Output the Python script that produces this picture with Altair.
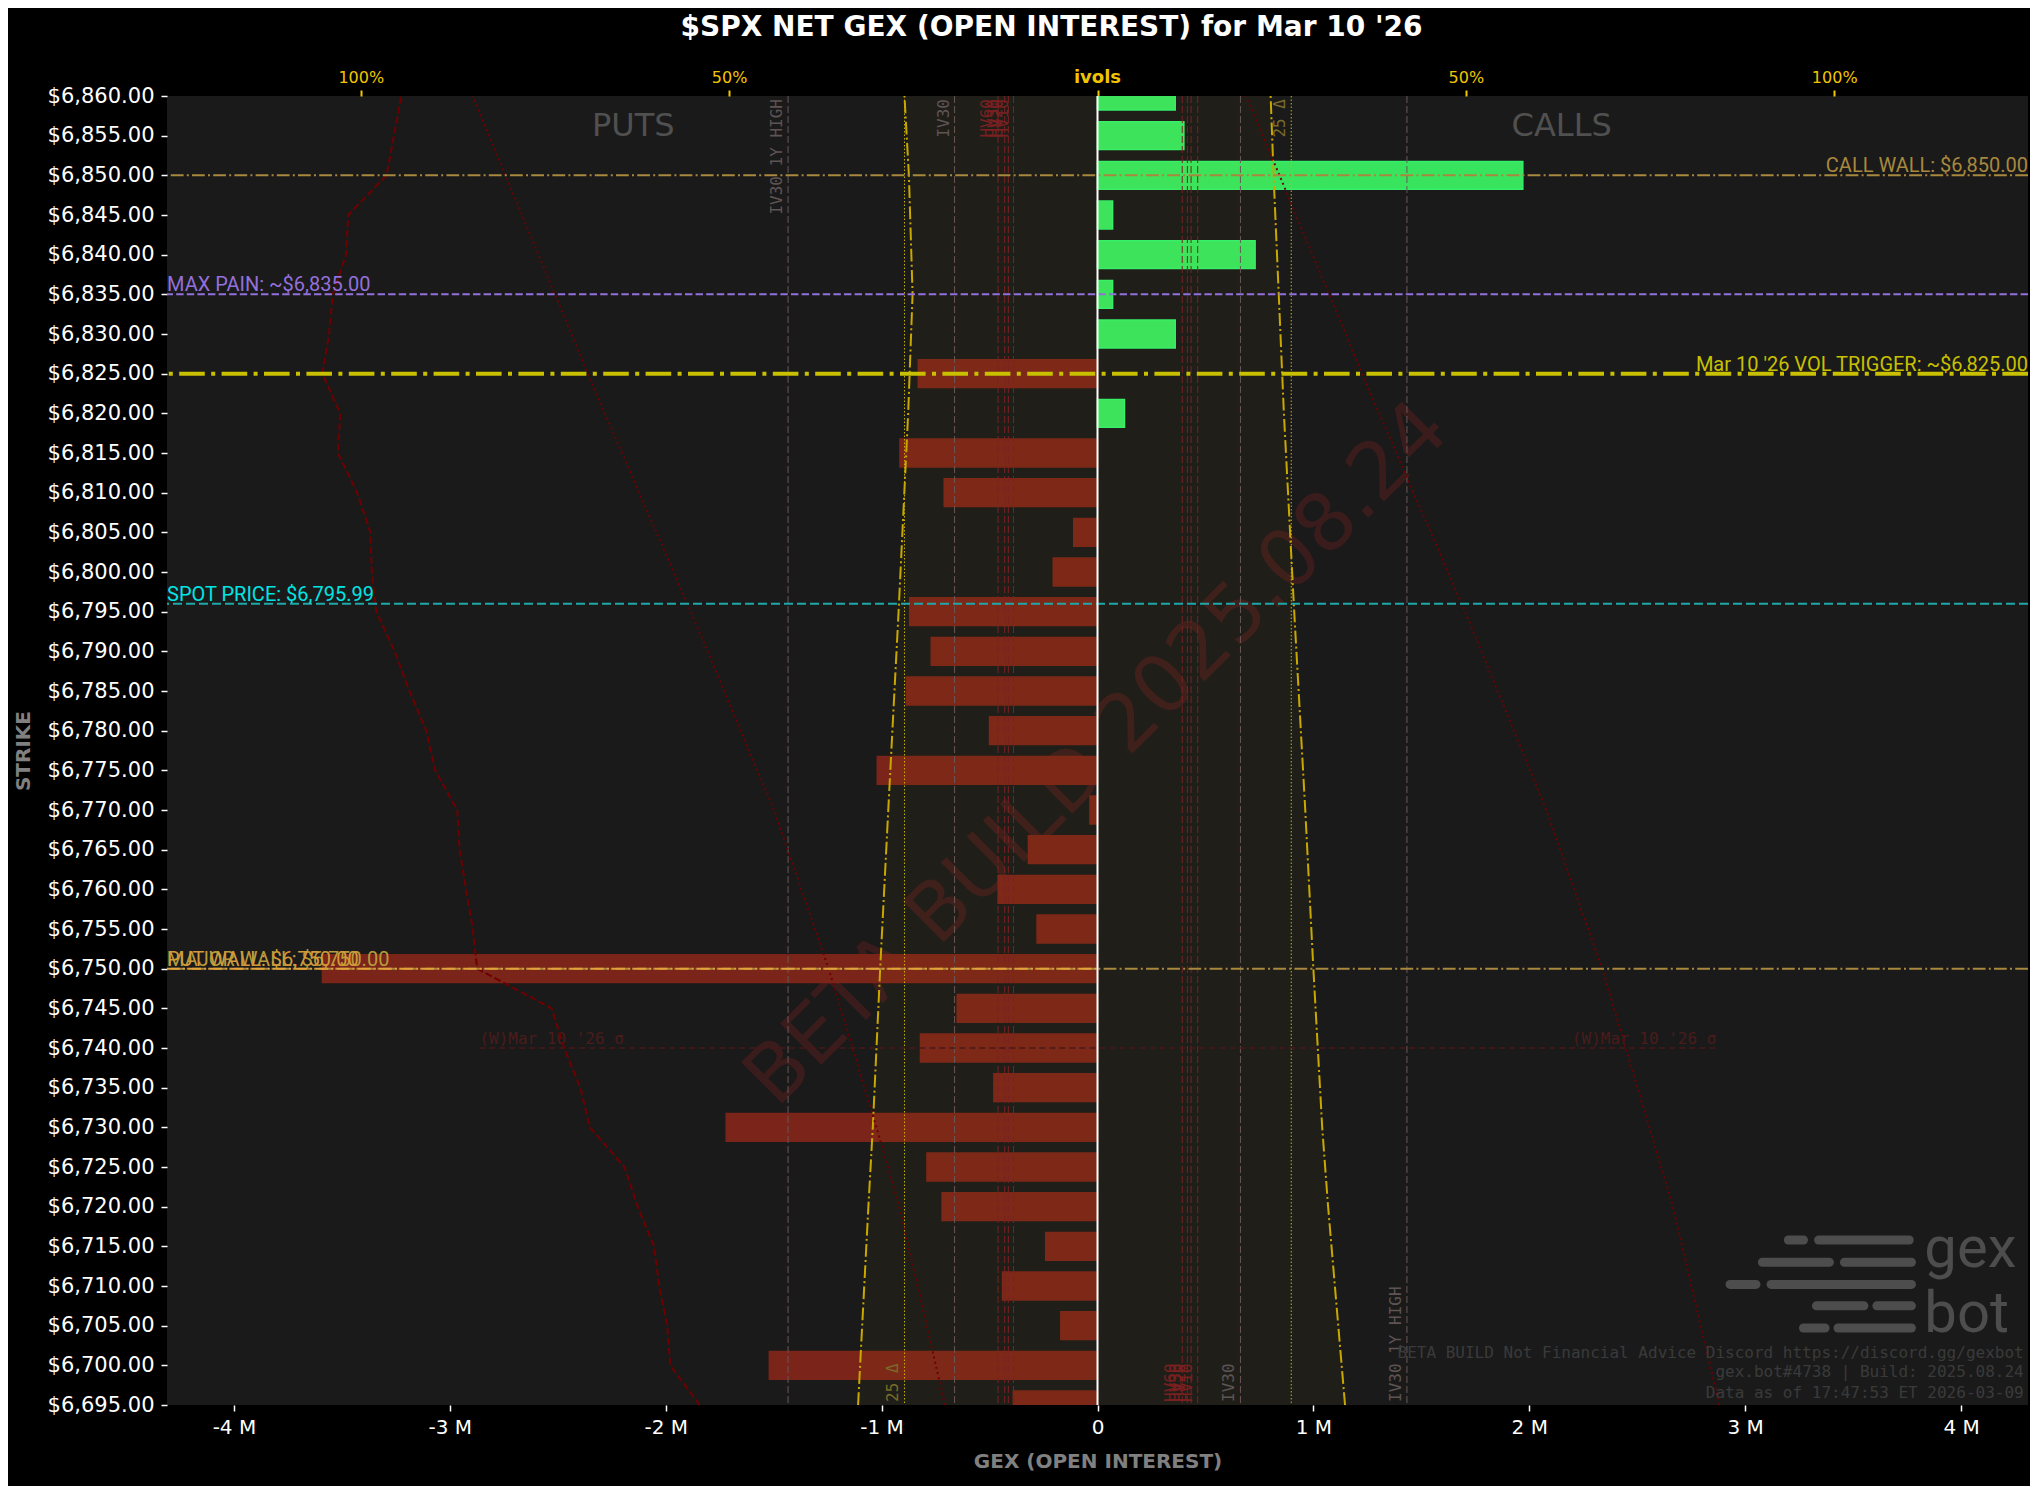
import altair as alt
import pandas as pd

# ---------------- data ----------------
STRIKES = [6860, 6855, 6850, 6845, 6840, 6835, 6830, 6825, 6820, 6815, 6810, 6805,
           6800, 6795, 6790, 6785, 6780, 6775, 6770, 6765, 6760, 6755, 6750, 6745,
           6740, 6735, 6730, 6725, 6720, 6715, 6710, 6705, 6700, 6695]
NET_GEX_M = [0.36, 0.40, 1.97, 0.07, 0.73, 0.07, 0.36, -0.83, 0.125, -0.915, -0.71, -0.11,
             -0.205, -0.87, -0.77, -0.885, -0.50, -1.02, -0.035, -0.32, -0.46, -0.28, -3.59, -0.65,
             -0.82, -0.48, -1.72, -0.79, -0.72, -0.24, -0.44, -0.17, -1.52, -0.39]

# put implied-vol curve (ivols axis, %)
PUT_IV = [-94.5, -95.5, -96.5, -101.7, -102.0, -103.8, -104.3, -105.2, -102.8, -103.1, -100.5, -98.7,
          -98.5, -97.9, -95.4, -93.4, -91.1, -89.9, -86.9, -86.6, -85.7, -84.8, -84.2, -74.1,
          -72.4, -70.2, -68.9, -64.2, -62.4, -60.2, -59.5, -58.4, -58.0, -54.0]

SKEW_STRIKES_L = [6860, 6825, 6795, 6770, 6750, 6730, 6720, 6695]
SKEW_IV_L = [-84.8, -69.2, -55.2, -43.9, -36.5, -30.0, -26.9, -20.7]
SKEW_STRIKES_R = [6860, 6850, 6825, 6795, 6770, 6750, 6720, 6695]
SKEW_IV_R = [20.1, 24.7, 35.9, 49.9, 60.9, 68.5, 78.1, 84.4]

BAND_STRIKES = [6860, 6850, 6835, 6820, 6795, 6770, 6750, 6730, 6720, 6695]
BAND_LEFT = [-26.2, -25.6, -25.1, -25.7, -27.0, -28.4, -29.5, -30.5, -31.1, -32.5]
BAND_RIGHT = [23.5, 23.9, 24.6, 25.3, 26.7, 28.2, 29.3, 30.5, 31.3, 33.6]

IV30_1Y_HIGH = 42.0
IV30 = 19.4
HV_LEFT = [-13.5, -12.6, -12.1, -11.4]
HV_RIGHT = [11.5, 12.2, 12.7, 13.6]
HV_NAMES = ["HV60", "HV30", "HV20", "HV10"]
DELTA25_LEFT, DELTA25_RIGHT = -26.2, 26.3
SIGMA_STRIKE = 6740
SIGMA_IV = [-83.9, 84.0]

MAX_PAIN = 6835
VOL_TRIGGER = 6825
CALL_WALL = 6850
SPOT = 6795.99
PUT_WALL = 6750

X_MIN, X_MAX = -4.31e6, 4.31e6
IV_MAX = 126.3          # ivols (top axis) half-range, in %
K = X_MAX / IV_MAX      # ivols % -> GEX units (both axes share the plot width)
Y_MIN, Y_MAX = 6695, 6860
BAR_HALF = 1.75
GEX_TICKS = [-4e6, -3e6, -2e6, -1e6, 0, 1e6, 2e6, 3e6, 4e6]
IV_TICKS = [-100, -50, 0, 50, 100]
STRIKE_TICKS = list(range(6695, 6861, 5))

SIDE_LABELS = ["PUTS", "CALLS"]
SIDE_X = [-2.15e6, 2.15e6]
SIDE_Y = 6856.2

FOOTER = ["BETA BUILD Not Financial Advice Discord https://discord.gg/gexbot",
          "gex.bot#4738 | Build: 2025.08.24",
          "Data as of 17:47:53 ET 2026-03-09"]
FOOTER_Y = [6701.5, 6699.1, 6696.5]
FOOTER_X = 4.29e6

LOGO_Y = [6715.8, 6715.8, 6713.0, 6713.0, 6710.2, 6710.2, 6707.5, 6707.5, 6704.7, 6704.7]
LOGO_X1 = [3.20, 3.34, 3.08, 3.46, 2.93, 3.12, 3.33, 3.61, 3.27, 3.43]
LOGO_X2 = [3.27, 3.76, 3.39, 3.77, 3.05, 3.77, 3.55, 3.77, 3.37, 3.77]
LOGO_WORDS = ["gex", "bot"]
LOGO_WORD_Y = [6712.4, 6704.2]
LOGO_WORD_X = 3.83e6

WATERMARK = "BETA BUILD 2025.08.24"
WATERMARK_Y = 6777

NARROW = "Roboto"
MONO = "DejaVu Sans Mono"
SANS = "DejaVu Sans"

# ---------------- scales / axes ----------------
y_scale = alt.Scale(domain=[Y_MIN, Y_MAX], nice=False, zero=False)
x_scale = alt.Scale(domain=[X_MIN, X_MAX], nice=False, zero=False)

x_axis = alt.Axis(orient="bottom", values=GEX_TICKS,
                  labelExpr="datum.value == 0 ? '0' : (datum.value < 0 ? '-' : '') + abs(datum.value) / 1000000 + ' M'",
                  tickSize=6, tickWidth=1.5, labelPadding=6, title="GEX (OPEN INTEREST)", titlePadding=14,
                  labelColor="#FFFFFF", tickColor="#FFFFFF", labelFontSize=20, labelFont=SANS,
                  titleColor="#808080", titleFont=SANS, titleFontSize=20, titleFontWeight="bold",
                  domain=False, grid=False)
y_axis = alt.Axis(orient="left", values=STRIKE_TICKS, format="$,.2f", tickSize=6, tickWidth=1.5, labelPadding=7,
                  title="STRIKE", titlePadding=14, labelColor="#FFFFFF", tickColor="#FFFFFF", labelFontSize=21,
                  labelFont=SANS, titleColor="#808080", titleFont=SANS, titleFontSize=20, titleFontWeight="bold",
                  domain=False, grid=False)
top_axis = alt.Axis(orient="top", values=[v * K for v in IV_TICKS],
                    labelExpr=f"abs(round(datum.value / {K})) < 1 ? '' : abs(round(datum.value / {K})) + '%'",
                    labelColor="#F2C500", tickColor="#F2C500", tickSize=6, tickWidth=2, labelPadding=5,
                    labelFontSize=16, labelFont=SANS, title=None, domain=False, grid=False)


def XQ(field, axis=None):
    return alt.X(field, type="quantitative", scale=x_scale, axis=axis)


def YQ(field):
    # every layer carries the same y axis so that the shared axis merges cleanly
    return alt.Y(field, type="quantitative", scale=y_scale, axis=y_axis)


# ---------------- marks ----------------
bars_df = pd.DataFrame({"strike": STRIKES, "gex": [v * 1e6 for v in NET_GEX_M]})

watermark = alt.Chart(pd.DataFrame({"x": [0.0], "y": [WATERMARK_Y], "t": [WATERMARK]})).mark_text(
    angle=315, fontSize=80, font=SANS, color="#3B1C1C", align="center", baseline="middle"
).encode(x=XQ("x:Q"), y=YQ("y:Q"), text="t:N")

bars = alt.Chart(bars_df).mark_bar(clip=True, strokeWidth=1.5).transform_calculate(
    y0=f"datum.strike - {BAR_HALF}", y1=f"datum.strike + {BAR_HALF}"
).encode(
    x=XQ("gex:Q", axis=x_axis),
    x2=alt.X2(datum=0),
    y=YQ("y0:Q"),
    y2="y1:Q",
    color=alt.condition("datum.gex > 0", alt.value("#38E45E"), alt.value("#7B2419")),
    stroke=alt.condition("datum.gex > 0", alt.value("#34F06A"), alt.value("#7B2419")),
)


def ivdf(**cols):
    df = pd.DataFrame(cols)
    for c in list(df.columns):
        if c.startswith("iv"):
            df["x" + c[2:]] = df[c] * K
    return df


band_df = ivdf(strike=BAND_STRIKES, ivl=BAND_LEFT, ivr=BAND_RIGHT)
band = alt.Chart(band_df).mark_area(orient="horizontal", color="#FFD700", opacity=0.025).encode(
    y=YQ("strike:Q"), x=XQ("xl:Q", axis=top_axis), x2="xr:Q")

gray_v = alt.Chart(ivdf(iv=[-IV30_1Y_HIGH, -IV30, IV30, IV30_1Y_HIGH])).mark_rule(
    color="#6A5858", strokeWidth=1, strokeDash=[7, 3]).encode(x=XQ("x:Q"))
red_v = alt.Chart(ivdf(iv=HV_LEFT + HV_RIGHT)).mark_rule(
    color="#7A2222", strokeWidth=1, strokeDash=[7, 3]).encode(x=XQ("x:Q"))
yel_v = alt.Chart(ivdf(iv=[DELTA25_LEFT, DELTA25_RIGHT])).mark_rule(
    color="#C8B400", strokeWidth=1, strokeDash=[1.5, 2]).encode(x=XQ("x:Q"))

top_lab = ivdf(iv=[-IV30_1Y_HIGH, -IV30, DELTA25_RIGHT] + HV_LEFT,
               t=["IV30 1Y HIGH", "IV30", "25 Δ"] + HV_NAMES,
               c=["#5E5454", "#5E5454", "#7A6A28"] + ["#7A2020"] * 4,
               y=[Y_MAX] * 7)
bot_lab = ivdf(iv=[IV30_1Y_HIGH, IV30, DELTA25_LEFT] + HV_RIGHT,
               t=["IV30 1Y HIGH", "IV30", "25 Δ"] + HV_NAMES,
               c=["#5E5454", "#5E5454", "#7A6A28"] + ["#7A2020"] * 4,
               y=[Y_MIN] * 7)
top_text = alt.Chart(top_lab).mark_text(angle=270, align="right", baseline="bottom", dy=-3, dx=-3,
                                        font=MONO, fontSize=16).encode(
    x=XQ("x:Q"), y=YQ("y:Q"), text="t:N", color=alt.Color("c:N", scale=None))
bot_text = alt.Chart(bot_lab).mark_text(angle=270, align="left", baseline="bottom", dy=-3, dx=3,
                                        font=MONO, fontSize=16).encode(
    x=XQ("x:Q"), y=YQ("y:Q"), text="t:N", color=alt.Color("c:N", scale=None))

ivols_lab = alt.Chart(pd.DataFrame({"x": [0.0], "y": [Y_MAX], "t": ["ivols"]})).mark_text(
    font=SANS, fontSize=18, fontWeight="bold", color="#F2C500", baseline="alphabetic", dy=-13).encode(
    x=XQ("x:Q"), y=YQ("y:Q"), text="t:N")

sigma_df = ivdf(iva=[SIGMA_IV[0]], ivb=[SIGMA_IV[1]], y=[SIGMA_STRIKE])
sigma_line = alt.Chart(sigma_df).mark_rule(color="#4A1818", strokeWidth=1.5, strokeDash=[6, 4]).encode(
    x=XQ("xa:Q"), x2="xb:Q", y=YQ("y:Q"))
sigma_lab = ivdf(iv=SIGMA_IV, y=[SIGMA_STRIKE] * 2, t=["(W)Mar 10 '26 σ"] * 2)
sigma_l = alt.Chart(sigma_lab.iloc[[0]]).mark_text(align="left", baseline="alphabetic", dy=-4, font=MONO,
                                                  fontSize=16, color="#4A1C1C").encode(
    x=XQ("x:Q"), y=YQ("y:Q"), text="t:N")
sigma_r = alt.Chart(sigma_lab.iloc[[1]]).mark_text(align="right", baseline="alphabetic", dy=-4, font=MONO,
                                                  fontSize=16, color="#4A1C1C").encode(
    x=XQ("x:Q"), y=YQ("y:Q"), text="t:N")

DASHDOT = [12.8, 3.2, 2, 3.2]
band_l = alt.Chart(band_df).mark_line(color="#C9A800", strokeWidth=2, strokeDash=DASHDOT).encode(
    x=XQ("xl:Q"), y=YQ("strike:Q"), order="strike:Q")
band_r = alt.Chart(band_df).mark_line(color="#C9A800", strokeWidth=2, strokeDash=DASHDOT).encode(
    x=XQ("xr:Q"), y=YQ("strike:Q"), order="strike:Q")

put_iv = alt.Chart(ivdf(strike=STRIKES, iv=PUT_IV)).mark_line(
    color="#6E0000", strokeWidth=2, strokeDash=[7, 3]).encode(x=XQ("x:Q"), y=YQ("strike:Q"), order="strike:Q")
skew_l = alt.Chart(ivdf(strike=SKEW_STRIKES_L, iv=SKEW_IV_L)).mark_line(
    color="#6E0000", strokeWidth=2, strokeDash=[2, 3.3]).encode(x=XQ("x:Q"), y=YQ("strike:Q"), order="strike:Q")
skew_r = alt.Chart(ivdf(strike=SKEW_STRIKES_R, iv=SKEW_IV_R)).mark_line(
    color="#6E0000", strokeWidth=2, strokeDash=[2, 3.3]).encode(x=XQ("x:Q"), y=YQ("strike:Q"), order="strike:Q")


def hline(y, color, width, dash):
    return alt.Chart(pd.DataFrame({"y": [y]})).mark_rule(color=color, strokeWidth=width, strokeDash=dash).encode(
        y=YQ("y:Q"))


def label(x, y, text, color, align, size=20, font=NARROW, dy=-3):
    return alt.Chart(pd.DataFrame({"x": [x], "y": [y], "t": [text]})).mark_text(
        align=align, baseline="alphabetic", dy=dy, font=font, fontSize=size, color=color).encode(
        x=XQ("x:Q"), y=YQ("y:Q"), text="t:N")


levels = [
    hline(CALL_WALL, "#A8883E", 2, DASHDOT),
    hline(PUT_WALL, "#A8883E", 2, DASHDOT),
    alt.Chart(pd.DataFrame({"a": [X_MIN], "b": [0.0], "y": [PUT_WALL]})).mark_rule(
        color="#E3A23A", strokeWidth=2, strokeDash=DASHDOT).encode(x=XQ("a:Q"), x2="b:Q", y=YQ("y:Q")),
    hline(MAX_PAIN, "#9370DB", 2, [7.4, 3.2]),
    hline(SPOT, "#1FA8AA", 2, [9, 4]),
    hline(VOL_TRIGGER, "#C8C000", 4, [25.6, 6.4, 4, 6.4]),
    alt.Chart(pd.DataFrame({"x": [0.0]})).mark_rule(color="#FFFFFF", strokeWidth=2).encode(x=XQ("x:Q")),
    label(X_MAX, CALL_WALL, "CALL WALL: $6,850.00", "#A8883E", "right"),
    label(X_MAX, VOL_TRIGGER, "Mar 10 '26 VOL TRIGGER: ~$6,825.00", "#C8C000", "right"),
    label(X_MIN, MAX_PAIN, "MAX PAIN: ~$6,835.00", "#9370DB", "left"),
    label(X_MIN, SPOT, "SPOT PRICE: $6,795.99", "#00E5E5", "left"),
    label(X_MIN, PUT_WALL, "MAJOR WALL: $6,750.00", "#B89A3A", "left"),
    label(X_MIN, PUT_WALL, "PUT WALL: $6,750.00", "#D49A3A", "left"),
]

sides = alt.Chart(pd.DataFrame({"x": SIDE_X, "y": [SIDE_Y] * 2, "t": SIDE_LABELS})).mark_text(
    font=SANS, fontSize=32, color="#505050", align="center", baseline="middle").encode(
    x=XQ("x:Q"), y=YQ("y:Q"), text="t:N")

footer = alt.Chart(pd.DataFrame({"x": [FOOTER_X] * 3, "y": FOOTER_Y, "t": FOOTER})).mark_text(
    font=MONO, fontSize=16, color="#3A3A3A", align="right", baseline="middle").encode(
    x=XQ("x:Q"), y=YQ("y:Q"), text="t:N")

logo_lines = alt.Chart(pd.DataFrame({"a": [v * 1e6 for v in LOGO_X1], "b": [v * 1e6 for v in LOGO_X2],
                                     "y": LOGO_Y})).mark_rule(
    color="#4D4D4D", strokeWidth=9, strokeCap="round").encode(x=XQ("a:Q"), x2="b:Q", y=YQ("y:Q"))
logo_words = alt.Chart(pd.DataFrame({"x": [LOGO_WORD_X] * 2, "y": LOGO_WORD_Y, "t": LOGO_WORDS})).mark_text(
    font=NARROW, fontSize=58, color="#4D4D4D", align="left", baseline="alphabetic").encode(
    x=XQ("x:Q"), y=YQ("y:Q"), text="t:N")

chart = alt.layer(
    watermark, bars,
    band, gray_v, red_v, yel_v, top_text, bot_text, ivols_lab, sigma_line, sigma_l, sigma_r,
    band_l, band_r, put_iv, skew_l, skew_r,
    *levels, sides, footer, logo_lines, logo_words,
).resolve_axis(x="independent").properties(
    width=1861, height=1309,
    padding={"left": 5, "top": 6, "right": 0, "bottom": 15},
    title=alt.TitleParams(text="$SPX NET GEX (OPEN INTEREST) for Mar 10 '26", fontSize=28, font=SANS,
                          fontWeight="bold", color="#FFFFFF", anchor="middle", frame="group", dx=-46, offset=27),
).configure(background="#000000").configure_view(fill="#1A1A1A", strokeWidth=0)

chart.save("out.html", embed_options={"renderer": "svg", "actions": False})
